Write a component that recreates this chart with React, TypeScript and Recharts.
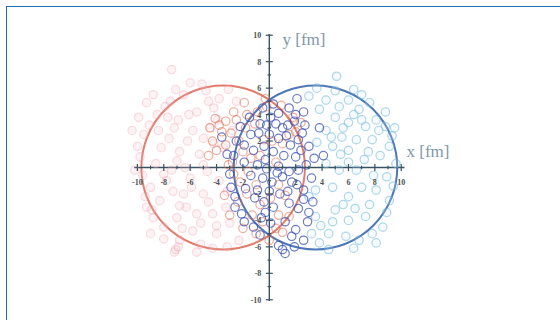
import {
  ScatterChart,
  Scatter,
  XAxis,
  YAxis,
  ReferenceLine,
  ReferenceDot,
  ReferenceArea,
} from "recharts";

// nucleus outlines (fm)
const nucleusCenters = [-3.5, 3.5];
const nucleusRadius = 6.2;
const nucleusColors = ["#dc6652", "#2f5fab"];

const majorTicks = [-10, -8, -6, -4, -2, 2, 4, 6, 8, 10];
const minorTicks = [-9, -7, -5, -3, -1, 0, 1, 3, 5, 7, 9];

// spectators of the left nucleus (faint red)
const redSpectators: [number, number][] = [
  [-9.5, 2.5], [-9.8, 0.8], [-9.0, -1.5], [-9.3, -3.0], [-8.5, 4.0],
  [-8.2, 1.5], [-8.0, -0.5], [-8.3, -2.5], [-8.0, -4.5], [-7.5, 5.0],
  [-7.2, 3.0], [-7.0, 0.5], [-7.3, -1.8], [-7.0, -3.8], [-6.8, -5.5],
  [-6.5, 5.5], [-6.2, 2.0], [-6.0, -0.8], [-6.3, -3.0], [-5.8, -4.8],
  [-5.5, 4.2], [-5.3, 1.0], [-5.0, -2.0], [-5.2, -5.8], [-4.8, 5.8],
  [-4.5, 3.0], [-4.7, -0.3], [-4.3, -3.5], [-4.0, -5.0], [-3.8, 5.2],
  [-3.5, 1.5], [-3.2, -1.8], [-3.0, -4.2], [-2.5, 5.0], [-2.3, -5.5],
  [-8.8, 5.5], [-7.4, 7.4], [-7.2, -6.4], [-9.9, 3.8], [-10.2, -0.2],
  [-6.8, 1.2], [-5.8, 2.8], [-7.8, -1.0], [-6.5, -2.0], [-4.2, 1.8],
  [-3.8, -1.0], [-5.5, -3.5], [-8.8, -3.8], [-4.2, 4.5], [-9.4, -2.2],
  [-7.6, 2.2], [-6.1, 4.0], [-5.0, 0.2], [-6.6, -4.6], [-4.6, -2.6],
  [-3.3, -3.0], [-3.9, 3.6], [-2.8, 2.8], [-8.6, 0.3], [-7.1, -6.2],
  [-10.0, 1.6], [-9.6, -0.6], [-9.1, 3.2], [-8.4, 2.8], [-7.9, 4.6],
  [-7.1, 5.9], [-6.0, 6.4], [-5.1, 6.3], [-8.9, -3.2], [-8.0, -5.4],
  [-6.9, -6.0], [-5.5, -6.4], [-4.3, -6.1], [-3.2, -6.0], [-6.4, 0.0],
  [-7.4, -0.2], [-5.9, -1.5], [-6.8, -2.9], [-5.2, -4.2], [-4.0, -4.4],
  [-7.7, 3.8], [-6.9, 3.6], [-5.0, 2.2], [-4.6, 5.0], [-9.3, 4.9],
  [-10.4, 2.8], [-9.0, -5.0], [-3.1, 5.9],
];

// spectators of the right nucleus (faint cyan)
const blueSpectators: [number, number][] = [
  [5.1, 6.9], [3.0, 5.4], [4.3, 5.1], [5.3, 4.6], [6.0, 5.1],
  [6.8, 4.4], [7.6, 4.9], [8.1, 3.6], [7.3, 3.1], [6.0, 3.4],
  [5.0, 3.8], [4.3, 2.8], [5.5, 2.3], [6.6, 2.1], [7.8, 2.1],
  [8.8, 3.1], [9.1, 1.6], [6.0, 1.3], [4.8, 1.6], [3.5, -1.7],
  [4.8, -1.5], [6.0, -2.2], [7.0, -1.5], [8.1, -1.7], [9.1, -2.5],
  [5.0, -3.2], [3.5, -3.7], [6.0, -4.0], [7.3, -3.7], [8.6, -4.5],
  [4.5, -5.0], [3.2, -5.0], [6.8, -5.5], [8.1, -5.7], [4.5, -6.2],
  [5.3, -0.2], [6.6, -0.2], [4.3, 0.3], [8.9, -0.7], [3.0, -2.2],
  [7.2, 0.6], [8.4, 0.9], [5.6, -2.8], [7.6, -2.8], [5.4, 1.0],
  [6.4, 4.0], [9.3, 2.4], [3.8, 4.4], [5.8, -5.2], [7.0, 5.5],
  [3.6, 6.0], [5.0, 5.8], [6.4, 5.9], [8.8, 4.2], [9.5, 3.0],
  [9.6, 0.3], [9.4, -1.4], [8.9, -3.4], [7.8, -5.0], [6.4, -6.1],
  [3.8, -5.7], [3.9, -4.4], [4.8, -4.1], [6.5, -3.1], [7.9, -0.6],
  [6.0, 0.4], [4.7, 2.3], [3.6, 1.9], [5.6, 3.0], [7.0, 3.6],
  [8.3, 2.8], [7.5, 1.2],
];

// participants of the left nucleus (orange red)
const redParticipants: [number, number][] = [
  [-3.8, 3.2], [-3.3, 3.5], [-4.3, 2.0], [-2.9, 2.6], [-2.3, 2.0],
  [-1.8, 3.0], [-1.7, 4.0], [-0.9, 4.2], [-2.8, 0.4], [-1.4, 0.7],
  [-0.7, 0.9], [0.5, 0.4], [-2.2, -1.1], [-1.0, -1.3], [0.7, -1.3],
  [1.2, -2.1], [-0.7, -2.8], [0.7, -3.6], [-0.5, -4.1], [0.5, -4.6],
  [1.5, -3.7], [-4.6, 0.9], [-4.1, 3.7], [-1.9, 4.9], [-0.3, 5.2],
  [-2.7, 4.2], [-1.6, -0.3], [-3.3, 1.7], [1.5, 2.5], [2.0, 2.7],
  [1.8, 3.8], [2.4, 3.4], [-2.4, -2.6], [-1.3, -3.6], [0.2, 2.0],
  [-3.6, 2.7], [-2.5, 3.6], [-4.0, 1.3], [-3.1, 0.2], [-2.0, 1.2],
  [-0.4, 2.1], [-1.1, 3.3], [-2.7, -0.5], [-3.4, -2.1], [-1.7, -2.0],
  [0.1, -2.3], [-1.0, -5.0], [0.0, -5.5], [1.0, -4.9], [-3.0, -3.6],
  [-4.5, 3.0], [-0.2, 4.6], [1.0, 1.8], [-2.0, -4.6], [0.9, 4.7],
];

// participants of the right nucleus (dark blue)
const blueParticipants: [number, number][] = [
  [2.1, 5.2], [1.5, 4.5], [0.7, 4.1], [2.6, 4.2], [2.0, 4.0],
  [-0.7, 3.3], [-0.2, 3.2], [0.5, 3.3], [1.0, 3.0], [1.4, 3.2],
  [1.9, 3.5], [2.7, 3.2], [3.8, 3.0], [-3.6, 2.3], [-2.2, 3.1],
  [-1.4, 2.5], [-0.8, 2.6], [0.0, 2.5], [0.7, 2.2], [1.6, 1.7],
  [2.2, 2.1], [3.0, 1.6], [4.1, 0.9], [-1.9, 1.7], [-1.2, 1.3],
  [-0.4, 1.6], [0.3, 1.2], [1.1, 0.9], [2.0, 0.8], [-2.7, 0.9],
  [-1.9, 0.4], [-0.9, 0.2], [-0.2, -0.1], [0.7, 0.1], [1.5, -0.3],
  [2.2, -0.2], [2.8, 0.2], [-1.4, -0.6], [-0.5, -0.8], [0.2, -1.1],
  [1.0, -0.7], [1.7, -1.1], [2.1, -1.3], [2.6, -1.7], [-1.8, -1.6],
  [-0.9, -1.7], [0.0, -1.8], [0.8, -2.0], [-0.4, -2.6], [0.3, -3.0],
  [1.5, -2.7], [2.2, -3.1], [3.0, -3.4], [-2.1, -3.5], [-1.9, -4.1],
  [-1.2, -4.5], [-0.3, -3.4], [1.2, -4.1], [2.0, -4.7], [2.9, -4.1],
  [-0.7, -5.1], [0.7, -5.9], [1.2, -6.5], [1.9, -6.0], [2.6, -5.5],
  [1.0, -6.2], [-2.5, 2.0], [-3.0, -0.5], [-2.6, -2.2], [-3.2, 1.0],
  [0.3, 4.8], [-0.5, 4.5], [2.5, 2.6], [3.2, -0.8], [3.4, 0.7],
  [2.4, 1.3], [1.3, 2.4], [-0.3, 0.6], [0.6, -0.4], [1.4, -1.8],
  [-1.1, -2.3], [-2.6, -3.0], [2.6, -2.4], [0.1, -4.2], [-0.6, -3.8],
  [1.7, -5.2], [-1.5, 3.8], [0.1, 3.8], [-2.9, -1.5], [3.3, -2.6],
];

const toPoints = (list: [number, number][]) =>
  list.map(([x, y]) => ({ x, y }));

const ring =
  (stroke: string, opacity: number, fill = "none", fillOpacity = 0) =>
  (props: any) =>
    (
      <circle
        cx={props.cx}
        cy={props.cy}
        r={4.2}
        fill={fill}
        fillOpacity={fillOpacity}
        stroke={stroke}
        strokeOpacity={opacity}
        strokeWidth={1.2}
      />
    );

const axisColor = "#3b5360";
const labelFont = "'Liberation Serif', 'DejaVu Serif', serif";

const XTick = (props: any) => {
  const { cx, cy, major, label } = props;
  const h = major ? 3.5 : 1.8;
  return (
    <g>
      <line x1={cx} y1={cy - h} x2={cx} y2={cy + h} stroke={axisColor} strokeWidth={1.2} />
      {label !== undefined && (
        <text
          x={cx}
          y={cy + 17}
          textAnchor="middle"
          fontSize={8}
          fontWeight="bold"
          fontFamily={labelFont}
          fill="#4a5358"
        >
          {label}
        </text>
      )}
    </g>
  );
};

const YTick = (props: any) => {
  const { cx, cy, major, label } = props;
  const h = major ? 3.5 : 1.8;
  return (
    <g>
      <line x1={cx - h} y1={cy} x2={cx + h} y2={cy} stroke={axisColor} strokeWidth={1.2} />
      {label !== undefined && (
        <text
          x={cx - 8}
          y={cy + 3}
          textAnchor="end"
          fontSize={8}
          fontWeight="bold"
          fontFamily={labelFont}
          fill="#4a5358"
        >
          {label}
        </text>
      )}
    </g>
  );
};

const AxisTitle = (props: any) => (
  <text
    x={props.cx}
    y={props.cy}
    fontSize={17}
    fontFamily={labelFont}
    fill="#7f98aa"
  >
    {props.title}
  </text>
);

export default function App() {
  return (
    <div
      style={{
        position: "fixed",
        left: 0,
        top: 0,
        width: 560,
        height: 320,
        background: "#fff",
        overflow: "hidden",
      }}
    >
      <div
        style={{
          position: "absolute",
          left: 6,
          top: 6,
          width: 620,
          height: 400,
          borderTop: "1.5px solid #1c6cb4",
          borderLeft: "1.5px solid #1c6cb4",
        }}
      />
      <div style={{ position: "absolute", left: 111, top: 22 }}>
        <ScatterChart
          width={343}
          height={291}
          margin={{ top: 0, right: 0, bottom: 0, left: 0 }}
        >
          <XAxis type="number" dataKey="x" domain={[-12, 14]} allowDataOverflow hide />
          <YAxis type="number" dataKey="y" domain={[-11, 11]} allowDataOverflow hide />

          <Scatter
            data={toPoints(redSpectators)}
            shape={ring("#ee8f9e", 0.3, "#f6c4cc", 0.2)}
            isAnimationActive={false}
          />
          <Scatter
            data={toPoints(blueSpectators)}
            shape={ring("#5fb2da", 0.5, "#d6ecf6", 0.2)}
            isAnimationActive={false}
          />

          {nucleusCenters.map((c, i) => (
            <ReferenceArea
              key={`n${i}`}
              x1={c - nucleusRadius}
              x2={c + nucleusRadius}
              y1={-nucleusRadius}
              y2={nucleusRadius}
              shape={(p: any) => (
                <ellipse
                  cx={p.x + p.width / 2}
                  cy={p.y + p.height / 2}
                  rx={p.width / 2}
                  ry={p.height / 2}
                  fill="none"
                  stroke={nucleusColors[i]}
                  strokeWidth={2}
                  strokeOpacity={0.85}
                />
              )}
            />
          ))}

          <Scatter
            data={toPoints(redParticipants)}
            shape={ring("#e0664a", 0.55)}
            isAnimationActive={false}
          />
          <Scatter
            data={toPoints(blueParticipants)}
            shape={ring("#3c52b2", 0.75)}
            isAnimationActive={false}
          />

          <ReferenceLine
            segment={[{ x: -10.25, y: 0 }, { x: 10.25, y: 0 }]}
            stroke={axisColor}
            strokeWidth={1.4}
          />
          <ReferenceLine
            segment={[{ x: 0, y: -10.1 }, { x: 0, y: 10.1 }]}
            stroke={axisColor}
            strokeWidth={1.4}
          />

          {majorTicks.map((t) => (
            <ReferenceDot
              key={`xm${t}`}
              x={t}
              y={0}
              r={0}
              shape={(p: any) => <XTick {...p} major label={t} />}
            />
          ))}
          {minorTicks.map((t) => (
            <ReferenceDot
              key={`xn${t}`}
              x={t}
              y={0}
              r={0}
              shape={(p: any) => <XTick {...p} />}
            />
          ))}
          {majorTicks.map((t) => (
            <ReferenceDot
              key={`ym${t}`}
              x={0}
              y={t}
              r={0}
              shape={(p: any) => <YTick {...p} major label={t} />}
            />
          ))}
          {minorTicks.map((t) => (
            <ReferenceDot
              key={`yn${t}`}
              x={0}
              y={t}
              r={0}
              shape={(p: any) => <YTick {...p} />}
            />
          ))}

          <ReferenceDot
            x={10.4}
            y={0.8}
            r={0}
            shape={(p: any) => <AxisTitle {...p} title="x [fm]" />}
          />
          <ReferenceDot
            x={1.0}
            y={9.25}
            r={0}
            shape={(p: any) => <AxisTitle {...p} title="y [fm]" />}
          />
        </ScatterChart>
      </div>
    </div>
  );
}
